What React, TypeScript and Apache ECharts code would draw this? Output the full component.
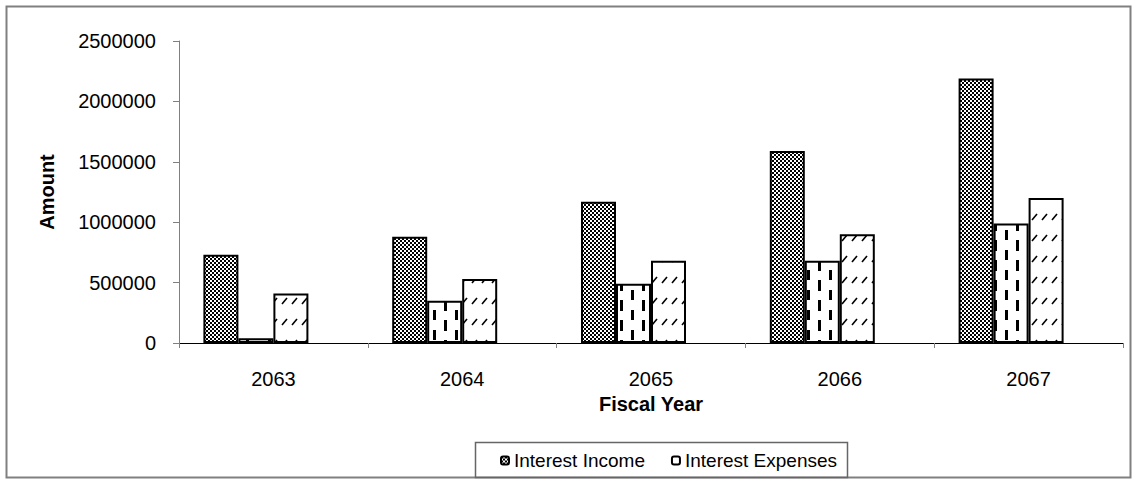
import React, { useEffect, useRef } from "react";
import * as echarts from "echarts";

const categories = ["2063", "2064", "2065", "2066", "2067"];
const interestIncome = [730000, 880000, 1170000, 1590000, 2190000];
const interestExpenses = [40000, 350000, 490000, 680000, 990000];
const thirdSeries = [410000, 530000, 680000, 900000, 1200000];
const emptySeries = [null, null, null, null, null];
const yTicks = [0, 500000, 1000000, 1500000, 2000000, 2500000];

function makePattern(w: number, h: number, draw: (ctx: CanvasRenderingContext2D) => void) {
  const c = document.createElement("canvas");
  c.width = w;
  c.height = h;
  const ctx = c.getContext("2d") as CanvasRenderingContext2D;
  ctx.fillStyle = "#fff";
  ctx.fillRect(0, 0, w, h);
  ctx.fillStyle = "#000";
  ctx.strokeStyle = "#000";
  draw(ctx);
  return c;
}

export default function App() {
  const ref = useRef<HTMLDivElement>(null);
  useEffect(() => {
    if (!ref.current) return;
    const chart = echarts.init(ref.current, undefined, { renderer: "svg" });
    const checker = makePattern(4, 4, (ctx) => {
      ctx.fillRect(0, 0, 2, 2);
      ctx.fillRect(2, 2, 2, 2);
    });
    const dashes = makePattern(22, 20, (ctx) => {
      ctx.fillRect(4, 0, 3, 11);
      ctx.fillRect(15, 10, 3, 11);
    });
    const diag = makePattern(10, 21, (ctx) => {
      ctx.lineWidth = 1.6;
      ctx.beginPath();
      ctx.moveTo(2, 10);
      ctx.lineTo(7, 4);
      ctx.stroke();
    });
    const font = "'Liberation Sans', Arial, sans-serif";
    const barStyle = (img: HTMLCanvasElement) => ({
      color: { image: img, repeat: "repeat" } as any,
      borderColor: "#000",
      borderWidth: 2,
    });
    chart.setOption({
      animation: false,
      backgroundColor: "#fff",
      textStyle: { fontFamily: font, color: "#000" },
      grid: { left: 179, top: 41, width: 944, height: 302 },
      legend: {
        data: [
          { name: "Interest Income" },
          { name: "Interest Expenses", itemStyle: { color: "#fff", borderColor: "#000", borderWidth: 2 } },
        ],
        left: 500,
        top: 451,
        padding: 0,
        itemWidth: 8,
        itemHeight: 8,
        itemGap: 26,
        textStyle: { fontFamily: font, fontSize: 19, color: "#000" },
      },
      xAxis: {
        type: "category",
        data: categories,
        name: "Fiscal Year",
        nameLocation: "middle",
        nameGap: 50,
        nameTextStyle: { fontFamily: font, fontSize: 20, fontWeight: "bold", color: "#000" },
        axisLine: { lineStyle: { color: "#000", width: 1 } },
        axisTick: { show: true, length: 5, lineStyle: { color: "#808080" } },
        axisLabel: { fontFamily: font, fontSize: 20, color: "#000", margin: 26 },
        splitLine: { show: false },
      },
      yAxis: {
        type: "value",
        min: yTicks[0],
        max: yTicks[yTicks.length - 1],
        interval: yTicks[1] - yTicks[0],
        name: "Amount",
        nameLocation: "middle",
        nameGap: 122,
        nameTextStyle: { fontFamily: font, fontSize: 20, fontWeight: "bold", color: "#000" },
        axisLine: { show: true, lineStyle: { color: "#808080", width: 1 } },
        axisTick: { show: true, length: 6, lineStyle: { color: "#808080" } },
        axisLabel: {
          fontFamily: font,
          fontSize: 20,
          color: "#000",
          margin: 23,
          formatter: (v: number) => String(v),
        },
        splitLine: { show: false },
      },
      graphic: [
        {
          type: "rect",
          shape: { x: 6.5, y: 6.5, width: 1124, height: 471 },
          style: { fill: "none", stroke: "#808080", lineWidth: 2 },
          silent: true,
          z: -1,
        },
        {
          type: "rect",
          shape: { x: 475.5, y: 442.5, width: 372, height: 35 },
          style: { fill: "none", stroke: "#666", lineWidth: 1.5 },
          silent: true,
        },
      ],
      series: [
        {
          name: "Interest Income",
          type: "bar",
          data: interestIncome,
          barWidth: 35,
          barGap: "0%",
          itemStyle: barStyle(checker),
        },
        {
          name: "Interest Expenses",
          type: "bar",
          data: interestExpenses,
          barWidth: 35,
          barGap: "0%",
          itemStyle: barStyle(dashes),
        },
        {
          name: "Series 3",
          type: "bar",
          data: thirdSeries,
          barWidth: 35,
          barGap: "0%",
          itemStyle: barStyle(diag),
        },
        {
          name: "Series 4",
          type: "bar",
          data: emptySeries,
          barWidth: 35,
          barGap: "0%",
          itemStyle: { color: "#fff" },
        },
      ],
    });
    return () => chart.dispose();
  }, []);
  return (
    <div
      ref={ref}
      style={{ position: "fixed", left: 0, top: 0, width: 1138, height: 484 }}
    />
  );
}
